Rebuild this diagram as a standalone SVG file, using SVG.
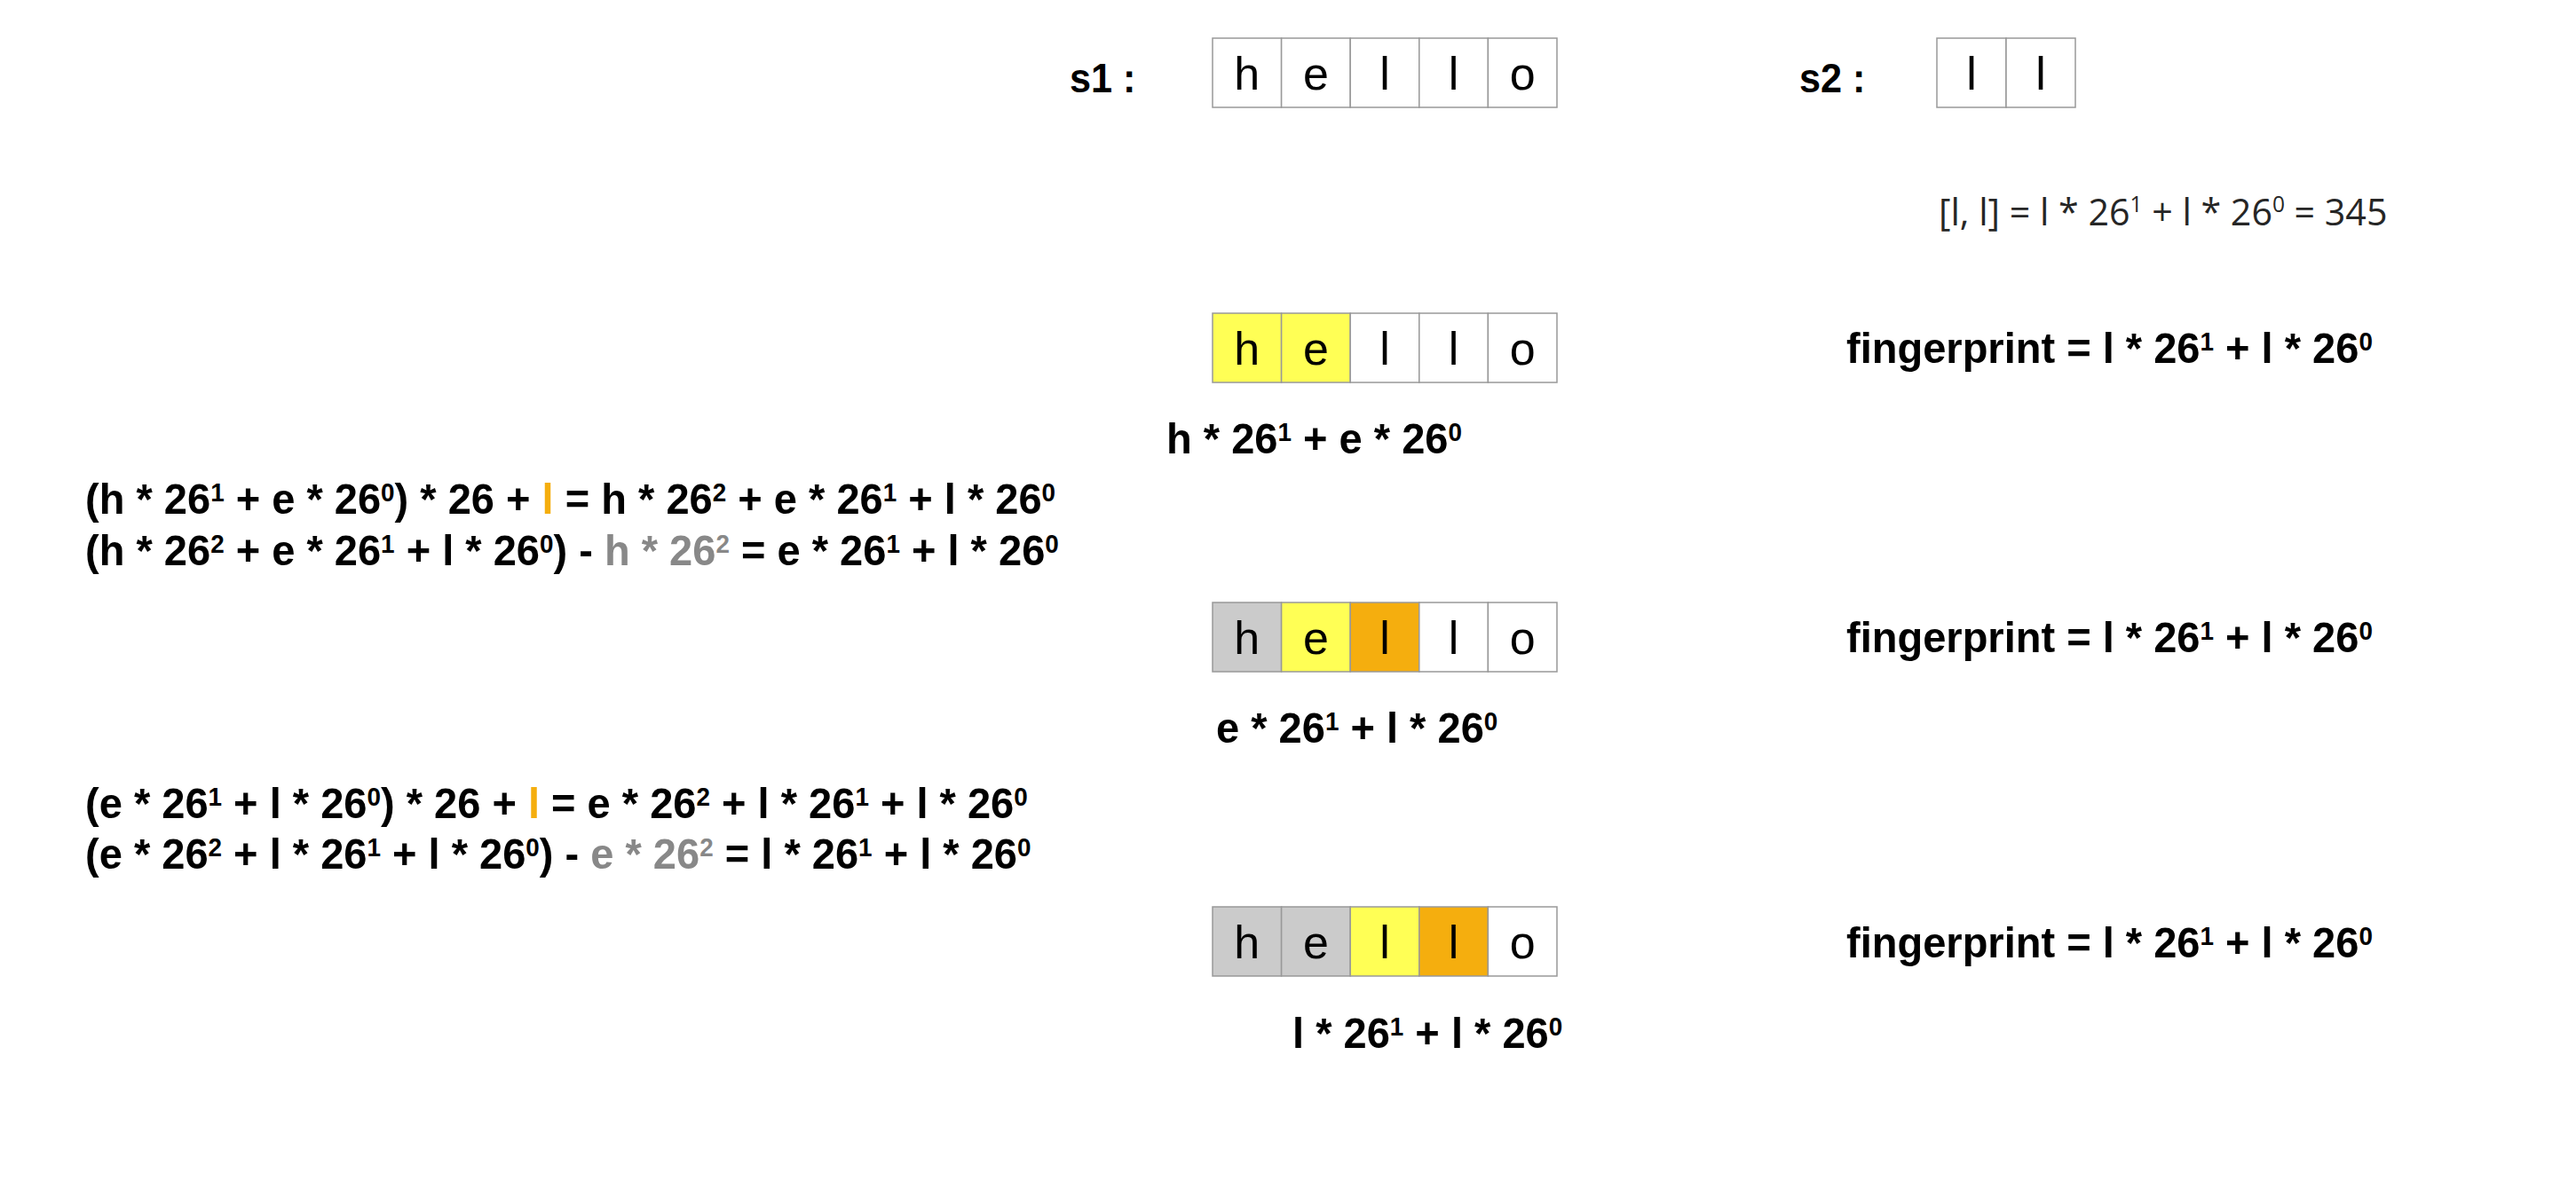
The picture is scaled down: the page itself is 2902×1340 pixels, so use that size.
<svg xmlns="http://www.w3.org/2000/svg" width="2902" height="1340" viewBox="0 0 2902 1340">
<style>
.cell{stroke:#999;stroke-width:1.5}
.w{fill:#fff}.y{fill:#FFFF55}.or{fill:#F5AE0E}.gr{fill:#CBCBCB}
.ch{font-family:"Liberation Sans",Arial,sans-serif;font-size:52px;text-anchor:middle;fill:#000}
.f{font-family:"Liberation Sans",Arial,sans-serif;font-size:49px;font-weight:bold;fill:#000}
.lab{font-family:"Liberation Sans",Arial,sans-serif;font-size:46px;font-weight:bold;fill:#000}
.s{font-size:29px}
.o{fill:#F5AE0E}
.g{fill:#888}
.c{font-family:"Open Sans","Liberation Sans",sans-serif;font-size:42px;fill:#262626}
.cs{font-size:25px}
</style>
<rect width="2902" height="1340" fill="#fff"/>
<g id="s1-label"><text class="lab" transform="translate(1205,104) scale(0.94,1)">s1 :</text></g>
<g id="s1-array">
<rect class="cell w" x="1366" y="43" width="77.6" height="78"/>
<rect class="cell w" x="1443.6" y="43" width="77.6" height="78"/>
<rect class="cell w" x="1521.2" y="43" width="77.6" height="78"/>
<rect class="cell w" x="1598.8" y="43" width="77.6" height="78"/>
<rect class="cell w" x="1676.4" y="43" width="77.6" height="78"/>
<text class="ch" x="1404.8" y="101">h</text><text class="ch" x="1482.4" y="101">e</text><text class="ch" x="1560" y="101">l</text><text class="ch" x="1637.6" y="101">l</text><text class="ch" x="1715.2" y="101">o</text>
</g>
<g id="s2-label"><text class="lab" transform="translate(2027,104) scale(0.94,1)">s2 :</text></g>
<g id="s2-array">
<rect class="cell w" x="2182" y="43" width="78" height="78"/>
<rect class="cell w" x="2260" y="43" width="78" height="78"/>
<text class="ch" x="2221" y="101">l</text><text class="ch" x="2299" y="101">l</text>
</g>
<g id="s2-hash"><text class="c" transform="translate(2184,254) scale(0.98,1)" xml:space="preserve">[l, l] = l * 26<tspan class="cs" dy="-15">1</tspan><tspan dy="15"> + l * 26</tspan><tspan class="cs" dy="-15">0</tspan><tspan dy="15"> = 345</tspan></text></g>

<g id="step1-array">
<rect class="cell y" x="1366" y="353" width="77.6" height="78"/>
<rect class="cell y" x="1443.6" y="353" width="77.6" height="78"/>
<rect class="cell w" x="1521.2" y="353" width="77.6" height="78"/>
<rect class="cell w" x="1598.8" y="353" width="77.6" height="78"/>
<rect class="cell w" x="1676.4" y="353" width="77.6" height="78"/>
<text class="ch" x="1404.8" y="411">h</text><text class="ch" x="1482.4" y="411">e</text><text class="ch" x="1560" y="411">l</text><text class="ch" x="1637.6" y="411">l</text><text class="ch" x="1715.2" y="411">o</text>
</g>
<g id="step1-fingerprint"><text class="f" transform="translate(2080,409) scale(0.96,1)" xml:space="preserve">fingerprint = l * 26<tspan class="s" dy="-14">1</tspan><tspan dy="14"> + l * 26</tspan><tspan class="s" dy="-14">0</tspan></text></g>
<g id="step1-hash"><text class="f" transform="translate(1314,511) scale(0.96,1)" xml:space="preserve">h * 26<tspan class="s" dy="-14">1</tspan><tspan dy="14"> + e * 26</tspan><tspan class="s" dy="-14">0</tspan></text></g>

<g id="roll1">
<text class="f" transform="translate(96,579) scale(0.96,1)" xml:space="preserve">(h * 26<tspan class="s" dy="-14">1</tspan><tspan dy="14"> + e * 26</tspan><tspan class="s" dy="-14">0</tspan><tspan dy="14">) * 26 + </tspan><tspan class="o">l</tspan> = h * 26<tspan class="s" dy="-14">2</tspan><tspan dy="14"> + e * 26</tspan><tspan class="s" dy="-14">1</tspan><tspan dy="14"> + l * 26</tspan><tspan class="s" dy="-14">0</tspan></text>
<text class="f" transform="translate(96,637) scale(0.96,1)" xml:space="preserve">(h * 26<tspan class="s" dy="-14">2</tspan><tspan dy="14"> + e * 26</tspan><tspan class="s" dy="-14">1</tspan><tspan dy="14"> + l * 26</tspan><tspan class="s" dy="-14">0</tspan><tspan dy="14">) - </tspan><tspan class="g">h * 26</tspan><tspan class="s g" dy="-14">2</tspan><tspan dy="14"> = e * 26</tspan><tspan class="s" dy="-14">1</tspan><tspan dy="14"> + l * 26</tspan><tspan class="s" dy="-14">0</tspan></text>
</g>

<g id="step2-array">
<rect class="cell gr" x="1366" y="679" width="77.6" height="78"/>
<rect class="cell y" x="1443.6" y="679" width="77.6" height="78"/>
<rect class="cell or" x="1521.2" y="679" width="77.6" height="78"/>
<rect class="cell w" x="1598.8" y="679" width="77.6" height="78"/>
<rect class="cell w" x="1676.4" y="679" width="77.6" height="78"/>
<text class="ch" x="1404.8" y="737">h</text><text class="ch" x="1482.4" y="737">e</text><text class="ch" x="1560" y="737">l</text><text class="ch" x="1637.6" y="737">l</text><text class="ch" x="1715.2" y="737">o</text>
</g>
<g id="step2-fingerprint"><text class="f" transform="translate(2080,735) scale(0.96,1)" xml:space="preserve">fingerprint = l * 26<tspan class="s" dy="-14">1</tspan><tspan dy="14"> + l * 26</tspan><tspan class="s" dy="-14">0</tspan></text></g>
<g id="step2-hash"><text class="f" transform="translate(1370,837) scale(0.96,1)" xml:space="preserve">e * 26<tspan class="s" dy="-14">1</tspan><tspan dy="14"> + l * 26</tspan><tspan class="s" dy="-14">0</tspan></text></g>

<g id="roll2">
<text class="f" transform="translate(96,922) scale(0.96,1)" xml:space="preserve">(e * 26<tspan class="s" dy="-14">1</tspan><tspan dy="14"> + l * 26</tspan><tspan class="s" dy="-14">0</tspan><tspan dy="14">) * 26 + </tspan><tspan class="o">l</tspan> = e * 26<tspan class="s" dy="-14">2</tspan><tspan dy="14"> + l * 26</tspan><tspan class="s" dy="-14">1</tspan><tspan dy="14"> + l * 26</tspan><tspan class="s" dy="-14">0</tspan></text>
<text class="f" transform="translate(96,979) scale(0.96,1)" xml:space="preserve">(e * 26<tspan class="s" dy="-14">2</tspan><tspan dy="14"> + l * 26</tspan><tspan class="s" dy="-14">1</tspan><tspan dy="14"> + l * 26</tspan><tspan class="s" dy="-14">0</tspan><tspan dy="14">) - </tspan><tspan class="g">e * 26</tspan><tspan class="s g" dy="-14">2</tspan><tspan dy="14"> = l * 26</tspan><tspan class="s" dy="-14">1</tspan><tspan dy="14"> + l * 26</tspan><tspan class="s" dy="-14">0</tspan></text>
</g>

<g id="step3-array">
<rect class="cell gr" x="1366" y="1022" width="77.6" height="78"/>
<rect class="cell gr" x="1443.6" y="1022" width="77.6" height="78"/>
<rect class="cell y" x="1521.2" y="1022" width="77.6" height="78"/>
<rect class="cell or" x="1598.8" y="1022" width="77.6" height="78"/>
<rect class="cell w" x="1676.4" y="1022" width="77.6" height="78"/>
<text class="ch" x="1404.8" y="1080">h</text><text class="ch" x="1482.4" y="1080">e</text><text class="ch" x="1560" y="1080">l</text><text class="ch" x="1637.6" y="1080">l</text><text class="ch" x="1715.2" y="1080">o</text>
</g>
<g id="step3-fingerprint"><text class="f" transform="translate(2080,1079) scale(0.96,1)" xml:space="preserve">fingerprint = l * 26<tspan class="s" dy="-14">1</tspan><tspan dy="14"> + l * 26</tspan><tspan class="s" dy="-14">0</tspan></text></g>
<g id="step3-hash"><text class="f" transform="translate(1456,1181) scale(0.96,1)" xml:space="preserve">l * 26<tspan class="s" dy="-14">1</tspan><tspan dy="14"> + l * 26</tspan><tspan class="s" dy="-14">0</tspan></text></g>
<g id="connectors"/>
</svg>
